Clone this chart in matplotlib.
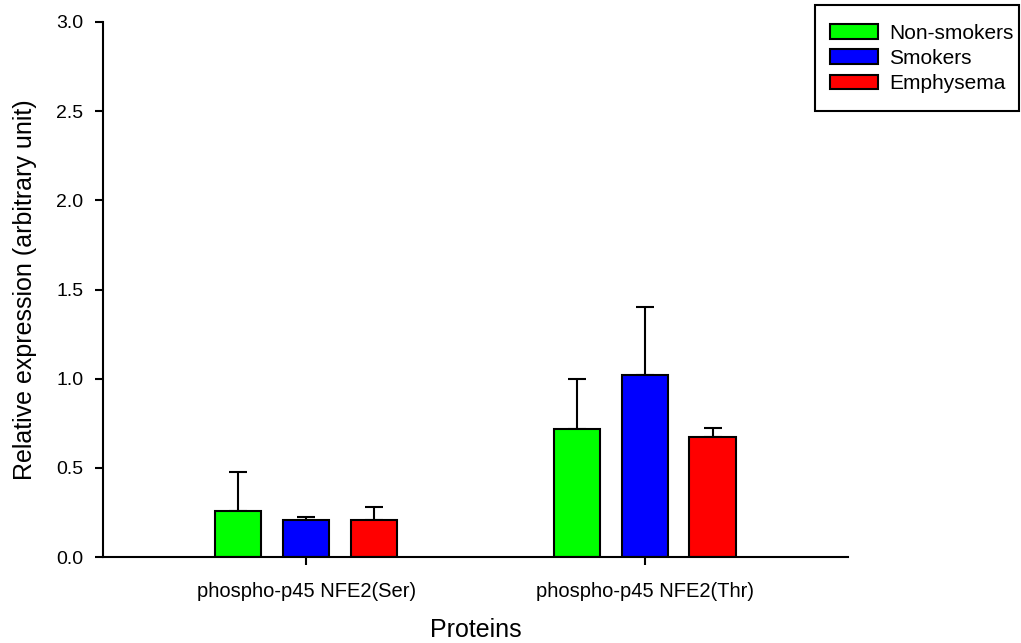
import matplotlib.pyplot as plt
from matplotlib.patches import Rectangle
import numpy as np

plt.rcParams['font.family'] = ['Liberation Sans', 'DejaVu Sans']

# dados
proteins = ['phospho-p45 NFE2(Ser)', 'phospho-p45 NFE2(Thr)']
groups = ['Non-smokers', 'Smokers', 'Emphysema']
colors = ['#00ff00', '#0000ff', '#ff0000']
non_smokers = [0.258, 0.718]
smokers = [0.207, 1.021]
emphysema = [0.207, 0.673]
non_smokers_err = [0.22, 0.28]
smokers_err = [0.017, 0.38]
emphysema_err = [0.073, 0.05]

values = [non_smokers, smokers, emphysema]
errors = [non_smokers_err, smokers_err, emphysema_err]

fig = plt.figure(figsize=(10.21, 6.43), dpi=100)
ax = fig.add_axes([0.1009, 0.1337, 0.7296, 0.8321])

x = np.arange(len(proteins))
width = 0.136
offsets = [-0.2, 0.0, 0.2]
for vals, errs, col, lab, off in zip(values, errors, colors, groups, offsets):
    ax.bar(x + off, vals, width, color=col, edgecolor='black', linewidth=1.5,
           label=lab, zorder=2)
    ax.errorbar(x + off, vals, yerr=[np.zeros(len(errs)), errs], fmt='none',
                ecolor='black', elinewidth=1.5, capsize=6.5, capthick=1.5, zorder=1)

ax.set_xlim(-0.6, 1.6)
ax.set_ylim(0, 3.0)
ax.set_yticks(np.arange(0, 3.01, 0.5))
ax.set_yticklabels([f'{v:.1f}' for v in np.arange(0, 3.01, 0.5)], fontsize=14)
ax.set_xticks(x)
ax.set_xticklabels(proteins, fontsize=14.5)
ax.tick_params(axis='both', direction='out', length=6, width=1.5, pad=8)
ax.tick_params(axis='x', pad=12)
ax.spines['top'].set_visible(False)
ax.spines['right'].set_visible(False)
ax.spines['left'].set_linewidth(1.5)
ax.spines['bottom'].set_linewidth(1.5)

ax.set_ylabel('Relative expression (arbitrary unit)', fontsize=18, labelpad=14)
ax.set_xlabel('Proteins', fontsize=18, labelpad=12)

# legenda sem moldura + retângulo desenhado à mão
leg = fig.legend(loc='center left', bbox_to_anchor=(830 / 1021, 1 - 58.5 / 643),
                 fontsize=15, frameon=False,
                 handlelength=2.3, handleheight=0.7, labelspacing=0.3,
                 handletextpad=0.55, borderpad=0, borderaxespad=0)
for h in leg.legend_handles:
    h.set_linewidth(1.5)
fig.patches.append(Rectangle((815 / 1021, 1 - 111 / 643), 204 / 1021, 106 / 643,
                             transform=fig.transFigure, fill=False,
                             edgecolor='black', linewidth=1.5))

fig.savefig('out.png', dpi=100)
